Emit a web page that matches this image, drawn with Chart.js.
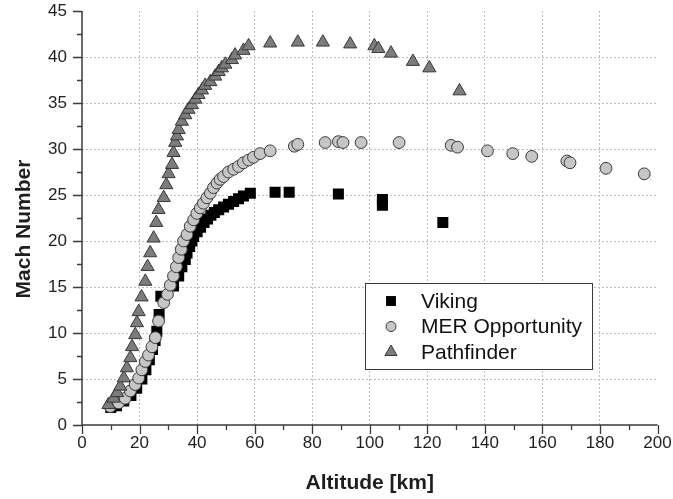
<!DOCTYPE html>
<html>
<head>
<meta charset="utf-8">
<script src="https://cdn.jsdelivr.net/npm/chart.js@4/dist/chart.umd.min.js"></script>
<style>
  html, body { margin: 0; padding: 0; background: #fff; }
  #wrap { width: 673px; height: 499px; position: relative; }
</style>
</head>
<body>
<div id="wrap"><canvas id="c" width="673" height="499"></canvas></div>
<script>
// Entry trajectories: altitude [km] vs Mach number
const seriesNames = ['Viking', 'MER Opportunity', 'Pathfinder'];
const xTitle = 'Altitude [km]';
const yTitle = 'Mach Number';

const vikingAlt = [10.0, 12.0, 14.5, 17.0, 19.0, 20.8, 22.2, 23.4, 24.5, 25.4, 26.0, 26.8, 27.4,
  31.8, 33.6, 34.7, 35.9, 36.5, 37.4, 38.2, 38.8, 40.0, 41.2, 42.4, 43.6, 44.8, 46.0, 47.5,
  49.2, 50.9, 52.7, 54.4, 56.1, 58.5, 67.1, 72.0, 89.1, 104.4, 104.4, 125.4];
const vikingMach = [1.9, 2.1, 2.6, 3.2, 4.0, 5.0, 6.0, 7.1, 8.2, 9.2, 10.2, 12.0, 14.0,
  15.1, 16.2, 17.2, 18.0, 18.7, 19.4, 20.0, 20.5, 21.0, 21.5, 22.0, 22.4, 22.8, 23.1, 23.4,
  23.7, 24.0, 24.3, 24.6, 24.9, 25.2, 25.3, 25.3, 25.1, 24.5, 23.9, 22.0];

const merAlt = [9.8, 12.7, 15.0, 16.8, 18.5, 19.7, 20.8, 22.0, 23.1, 24.3, 25.5, 26.6, 28.4,
  29.7, 30.7, 31.8, 32.8, 33.6, 34.5, 35.3, 36.5, 37.6, 38.8, 39.9, 41.1, 42.2, 43.4, 44.6,
  45.7, 46.9, 48.0, 49.2, 50.9, 52.7, 54.4, 56.1, 57.9, 59.6, 61.9, 65.4, 73.8, 75.0, 84.5,
  89.1, 90.7, 97.0, 110.2, 128.3, 130.5, 140.9, 149.7, 156.3, 168.5, 169.6, 182.1, 195.4];
const merMach = [2.0, 2.4, 2.9, 3.7, 4.4, 5.1, 6.0, 6.9, 7.6, 8.5, 9.5, 11.3, 13.3,
  14.2, 15.2, 16.2, 17.2, 18.2, 19.1, 20.0, 20.7, 21.6, 22.3, 23.0, 23.6, 24.1, 24.7, 25.2,
  25.8, 26.3, 26.7, 27.0, 27.5, 27.8, 28.1, 28.5, 28.8, 29.1, 29.5, 29.8, 30.3, 30.5, 30.7,
  30.8, 30.7, 30.7, 30.7, 30.4, 30.2, 29.8, 29.5, 29.2, 28.7, 28.5, 27.9, 27.3];

const pathAlt = [9.2, 11.0, 12.2, 13.3, 14.5, 15.6, 16.8, 17.4, 18.5, 19.1, 19.7, 20.7, 22.0,
  22.8, 23.7, 24.9, 25.8, 26.6, 28.4, 29.3, 30.1, 31.3, 31.8, 32.4, 33.0, 33.6, 34.7, 35.9,
  37.0, 38.2, 39.4, 40.5, 41.7, 42.8, 44.6, 46.3, 47.5, 48.6, 49.8, 52.1, 53.2, 56.1, 57.9,
  65.4, 75.0, 83.7, 93.2, 101.6, 103.0, 107.4, 115.0, 120.7, 131.2];
const pathMach = [2.2, 2.9, 3.5, 4.2, 5.1, 6.2, 7.3, 8.5, 9.8, 11.1, 12.3, 13.9, 15.6,
  17.2, 18.7, 20.3, 22.0, 23.4, 24.7, 26.1, 27.3, 28.3, 29.6, 30.7, 31.4, 32.1, 33.0, 33.7,
  34.3, 34.8, 35.4, 35.9, 36.4, 36.9, 37.3, 37.9, 38.4, 38.8, 39.2, 39.7, 40.2, 40.7, 41.2,
  41.5, 41.6, 41.6, 41.4, 41.2, 40.9, 40.4, 39.5, 38.8, 36.3];

// Axis ranges and tick spacing
const xRange = [0, 200], xMajor = 20, xMinor = 10;
const yRange = [0, 45], yMajor = 5, yMinor = 2.5;

const toPoints = (xs, ys) => xs.map((v, i) => ({ x: v, y: ys[i] }));

const FONT = "'Liberation Sans', Arial, sans-serif";
const INK = '#1e1e1e';

// Axis lines, outward major/minor ticks and the two axis titles
const axisDecor = {
  id: 'axisDecor',
  afterDraw(chart) {
    const { ctx, chartArea: a, scales: { x, y } } = chart;
    ctx.save();
    ctx.strokeStyle = '#3a3a3a';
    ctx.lineWidth = 1.5;
    ctx.beginPath();
    ctx.moveTo(a.left, a.top);
    ctx.lineTo(a.left, a.bottom);
    ctx.lineTo(a.right, a.bottom);
    ctx.stroke();
    ctx.lineWidth = 1.3;
    ctx.beginPath();
    for (let v = xRange[0]; v <= xRange[1] + 1e-9; v += xMinor) {
      const px = Math.round(x.getPixelForValue(v)) + 0.5;
      const len = Math.abs(v % xMajor) < 1e-9 ? 9 : 5;
      ctx.moveTo(px, a.bottom);
      ctx.lineTo(px, a.bottom + len);
    }
    for (let v = yRange[0]; v <= yRange[1] + 1e-9; v += yMinor) {
      const py = Math.round(y.getPixelForValue(v)) + 0.5;
      const len = Math.abs(v % yMajor) < 1e-9 ? 9 : 5;
      ctx.moveTo(a.left, py);
      ctx.lineTo(a.left - len, py);
    }
    ctx.stroke();

    ctx.fillStyle = INK;
    ctx.font = 'bold 21px ' + FONT;
    ctx.textAlign = 'center';
    ctx.textBaseline = 'middle';
    ctx.fillText(xTitle, (a.left + a.right) / 2, 483);
    ctx.translate(24, 229);
    ctx.rotate(-Math.PI / 2);
    ctx.fillText(yTitle, 0, 0);
    ctx.restore();
  }
};

// Boxed legend inside the plot area
const boxLegend = {
  id: 'boxLegend',
  afterDraw(chart) {
    const { ctx } = chart;
    const box = { x: 365.5, y: 283.5, w: 227, h: 86 };
    ctx.save();
    ctx.fillStyle = '#ffffff';
    ctx.fillRect(box.x, box.y, box.w, box.h);
    ctx.strokeStyle = '#3a3a3a';
    ctx.lineWidth = 1;
    ctx.strokeRect(box.x, box.y, box.w, box.h);
    ctx.font = '21px ' + FONT;
    ctx.textBaseline = 'middle';
    ctx.textAlign = 'left';
    chart.data.datasets.forEach((ds, i) => {
      const cy = 301 + i * 25.5;
      ctx.fillStyle = ds.backgroundColor;
      ctx.strokeStyle = ds.borderColor;
      ctx.lineWidth = ds.borderWidth;
      Chart.helpers.drawPoint(ctx, {
        pointStyle: ds.pointStyle,
        radius: ds.legendRadius,
        borderWidth: ds.borderWidth,
        rotation: 0
      }, 391, cy);
      ctx.fillStyle = '#111';
      ctx.fillText(ds.label, 421, cy + 1);
    });
    ctx.restore();
  }
};

const gridColor = (lo, hi) => (c) => {
  const v = c.tick ? c.tick.value : null;
  return (v === null || v <= lo || v >= hi) ? 'rgba(0,0,0,0)' : '#bcbcbc';
};

new Chart(document.getElementById('c'), {
  type: 'scatter',
  data: {
    datasets: [
      {
        label: seriesNames[0],
        data: toPoints(vikingAlt, vikingMach),
        pointStyle: 'rect',
        pointRadius: 7.8,
        legendRadius: 7,
        backgroundColor: '#000000',
        borderColor: '#000000',
        borderWidth: 0,
        order: 2
      },
      {
        label: seriesNames[1],
        data: toPoints(merAlt, merMach),
        pointStyle: 'circle',
        pointRadius: 5.9,
        legendRadius: 5,
        backgroundColor: '#c6c6c6',
        borderColor: '#383838',
        borderWidth: 1,
        order: 1
      },
      {
        label: seriesNames[2],
        data: toPoints(pathAlt, pathMach),
        pointStyle: 'triangle',
        pointRadius: 7.6,
        legendRadius: 7,
        backgroundColor: '#7c7c7c',
        borderColor: '#383838',
        borderWidth: 1,
        order: 0
      }
    ]
  },
  options: {
    responsive: false,
    animation: false,
    events: [],
    layout: { padding: { top: 11, right: 15.5, bottom: 0, left: 0 } },
    plugins: { legend: { display: false }, tooltip: { enabled: false } },
    scales: {
      x: {
        type: 'linear',
        min: xRange[0], max: xRange[1],
        afterFit(s) { s.height = 74; s.paddingLeft = 0; s.paddingRight = 0; },
        ticks: { stepSize: xMajor, padding: 8, color: INK, font: { family: FONT, size: 17 }, maxRotation: 0 },
        grid: { color: gridColor(xRange[0], xRange[1]), lineWidth: 1, drawTicks: false },
        border: { display: false, dash: [2, 2] },
        title: { display: false }
      },
      y: {
        type: 'linear',
        min: yRange[0], max: yRange[1],
        afterFit(s) { s.width = 82; s.paddingTop = 0; s.paddingBottom = 0; },
        ticks: { stepSize: yMajor, padding: 15, color: INK, font: { family: FONT, size: 17 } },
        grid: { color: gridColor(yRange[0], yRange[1]), lineWidth: 1, drawTicks: false },
        border: { display: false, dash: [2, 2] },
        title: { display: false }
      }
    }
  },
  plugins: [axisDecor, boxLegend]
});
</script>
</body>
</html>
